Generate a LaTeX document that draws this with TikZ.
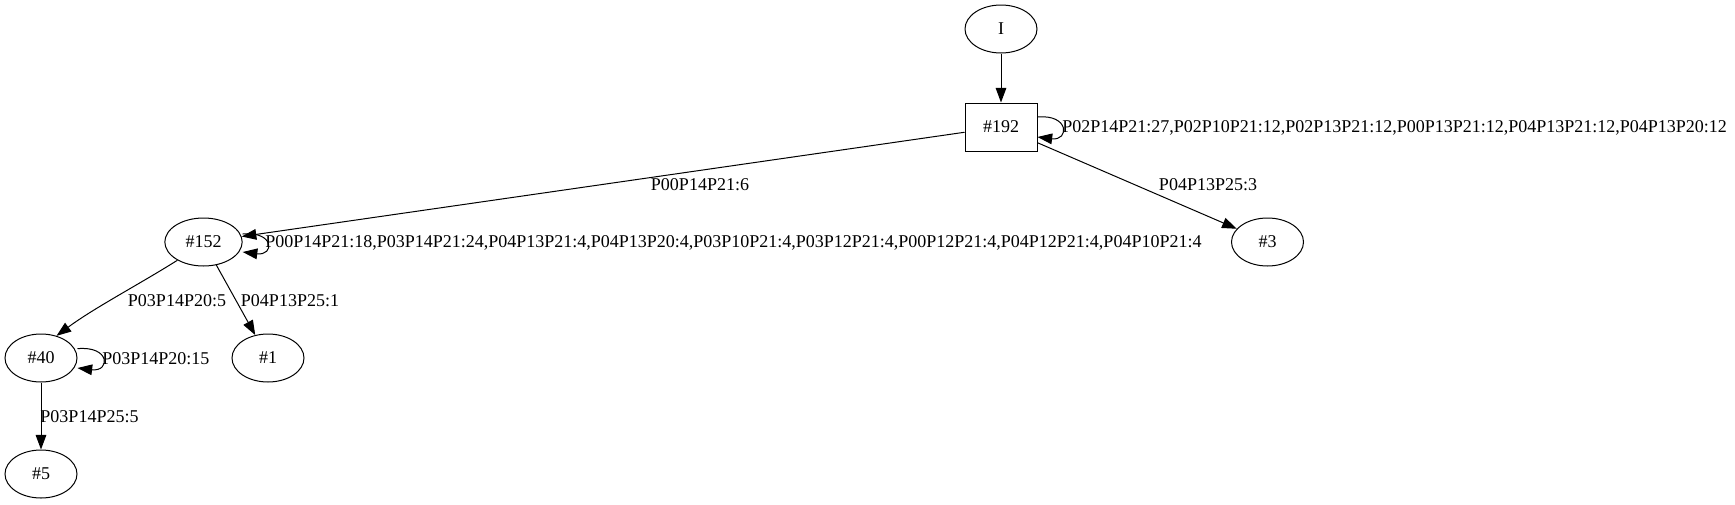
\documentclass[tikz,border=0pt]{standalone}
\usepackage{fontspec}
\setmainfont{Liberation Serif}
\usetikzlibrary{arrows.meta,shapes.geometric}
\begin{document}
\begin{tikzpicture}[x=0.75pt,y=-0.75pt,
  every node/.style={font=\fontsize{13.5}{16}\selectfont},
  st/.style={draw, ellipse, line width=0.75pt, minimum width=54pt, minimum height=36pt, inner sep=0pt},
  bx/.style={draw, rectangle, line width=0.75pt, minimum width=54pt, minimum height=36pt, inner sep=0pt},
  edge/.style={draw, line width=0.75pt, -{Triangle[length=11pt,width=8pt]}},
  lbl/.style={inner sep=0pt}
]
\useasboundingbox (0,0) rectangle (1735,504);

% states
\node[st] (I) at (1001,29) {I};
\node[bx] (n192) at (1001,127) {\#192};
\node[st, minimum width=58pt] (n152) at (203.5,242) {\#152};
\node[st] (n3) at (1267.5,242) {\#3};
\node[st] (n40) at (41,358) {\#40};
\node[st] (n1) at (268,358) {\#1};
\node[st] (n5) at (41,474) {\#5};

% edges
\draw[edge] (I) -- (n192);
\draw[edge] (n192) -- (n152);
\draw[edge] (n192) -- (n3);
\draw[edge] (n152.215) .. controls (138,285) and (94,308) .. (n40.55);
\draw[edge] (n152) -- (n1);
\draw[edge] (n40) -- (n5);

% self loops
\draw[edge] ([yshift=7.5pt]n192.east) .. controls +(32,-3) and +(32,4) .. ([yshift=-7.5pt]n192.east);
\draw[edge] ([yshift=6pt]n152.east) .. controls +(32,-3) and +(32,4) .. ([yshift=-7.5pt]n152.east);
\draw[edge] ([yshift=7pt]n40.east) .. controls +(33,-3) and +(33,4) .. ([yshift=-7.5pt]n40.east);

% labels
\node[lbl, anchor=west] (l192) at (1062,128) {P02P14P21:27,P02P10P21:12,P02P13P21:12,P00P13P21:12,P04P13P21:12,P04P13P20:12};
\node[lbl, anchor=west] (l152) at (265,243) {P00P14P21:18,P03P14P21:24,P04P13P21:4,P04P13P20:4,P03P10P21:4,P03P12P21:4,P00P12P21:4,P04P12P21:4,P04P10P21:4};
\node[lbl, anchor=west] (l40) at (102,359) {P03P14P20:15};
\node[lbl] (e1) at (700,185) {P00P14P21:6};
\node[lbl] (e2) at (1208,185) {P04P13P25:3};
\node[lbl] (e3) at (177,301) {P03P14P20:5};
\node[lbl] (e4) at (290,301) {P04P13P25:1};
\node[lbl] (e5) at (89.5,417) {P03P14P25:5};
\end{tikzpicture}
\end{document}
